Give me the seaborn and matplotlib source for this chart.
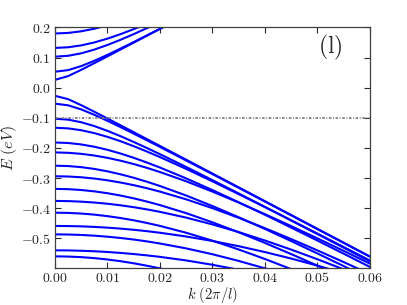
import numpy as np
import pandas as pd
import matplotlib
matplotlib.use("Agg")
import matplotlib.pyplot as plt
import seaborn as sns
from matplotlib.ticker import FuncFormatter, FixedLocator

# momentum grid (units of 2*pi/l)
k_grid = [0.0, 0.0025, 0.005, 0.0075, 0.01, 0.0125, 0.015, 0.0175, 0.02,
          0.025, 0.03, 0.035, 0.04, 0.045, 0.05, 0.055, 0.06]

# conduction subbands (eV)
cond_a = [0.026, 0.0384, 0.0593, 0.0815, 0.1041, 0.1268, 0.1496, 0.1725, 0.1954, 0.2413]
cond_b = [0.053, 0.0583, 0.0716, 0.0893, 0.1090, 0.1299, 0.1514, 0.1734, 0.1955, 0.2404]
cond_c = [0.103, 0.1059, 0.1141, 0.1265, 0.1418, 0.1591, 0.1779, 0.1976, 0.2179]
cond_d = [0.132, 0.1342, 0.1404, 0.1502, 0.1629, 0.1778, 0.1944, 0.2122]
cond_e = [0.180, 0.1818, 0.1872, 0.1958, 0.2070]

# valence subbands (eV)
val_1 = [-0.027, -0.0380, -0.0581, -0.0799, -0.1023, -0.1250, -0.1477, -0.1706, -0.1934,
         -0.2392, -0.2851, -0.3310, -0.3770, -0.4229, -0.4689, -0.5148, -0.5608]
val_2 = [-0.053, -0.0585, -0.0721, -0.0900, -0.1100, -0.1310, -0.1526, -0.1746, -0.1968,
         -0.2417, -0.2870, -0.3324, -0.3780, -0.4237, -0.4695, -0.5153, -0.5611]
val_3 = [-0.103, -0.1061, -0.1147, -0.1275, -0.1433, -0.1611, -0.1802, -0.2002, -0.2208,
         -0.2633, -0.3069, -0.3512, -0.3958, -0.4408, -0.4860, -0.5313, -0.5767]
val_4 = [-0.133, -0.1351, -0.1412, -0.1508, -0.1632, -0.1778, -0.1942, -0.2118, -0.2304,
         -0.2697, -0.3109, -0.3534, -0.3966, -0.4404, -0.4846, -0.5291, -0.5739]
val_5 = [-0.182, -0.1836, -0.1884, -0.1961, -0.2063, -0.2186, -0.2328, -0.2484, -0.2651,
         -0.3013, -0.3400, -0.3804, -0.4220, -0.4645, -0.5076, -0.5512, -0.5952]
val_6 = [-0.215, -0.2162, -0.2196, -0.2252, -0.2329, -0.2424, -0.2535, -0.2661, -0.2800,
         -0.3108, -0.3450, -0.3815, -0.4199, -0.4596, -0.5004, -0.5419, -0.5842]
val_7 = [-0.259, -0.2602, -0.2638, -0.2697, -0.2777, -0.2876, -0.2991, -0.3122, -0.3264,
         -0.3581, -0.3930, -0.4302, -0.4691, -0.5093, -0.5505, -0.5924, -0.6349]
val_8 = [-0.294, -0.2949, -0.2974, -0.3017, -0.3075, -0.3149, -0.3236, -0.3337, -0.3450,
         -0.3707, -0.4000, -0.4321, -0.4665, -0.5027, -0.5403, -0.5791, -0.6189]
val_9 = [-0.336, -0.3369, -0.3397, -0.3442, -0.3504, -0.3581, -0.3674, -0.3780, -0.3898,
         -0.4166, -0.4470, -0.4801, -0.5154, -0.5525, -0.5909, -0.6304]
val_10 = [-0.376, -0.3766, -0.3784, -0.3813, -0.3853, -0.3905, -0.3967, -0.4040, -0.4122,
          -0.4314, -0.4540, -0.4794, -0.5074, -0.5376, -0.5697, -0.6033, -0.6384]
val_11 = [-0.415, -0.4157, -0.4179, -0.4215, -0.4265, -0.4328, -0.4403, -0.4491, -0.4589,
          -0.4817, -0.5080, -0.5372, -0.5688, -0.6025]
val_12 = [-0.459, -0.4594, -0.4604, -0.4622, -0.4647, -0.4679, -0.4718, -0.4764, -0.4816,
          -0.4941, -0.5090, -0.5263, -0.5458, -0.5673, -0.5908, -0.6160]
val_13 = [-0.487, -0.4875, -0.4889, -0.4914, -0.4947, -0.4990, -0.5042, -0.5103, -0.5173,
          -0.5336, -0.5530, -0.5752, -0.5998, -0.6266]
val_14 = [-0.540, -0.5403, -0.5414, -0.5431, -0.5455, -0.5486, -0.5523, -0.5567, -0.5617,
          -0.5736, -0.5880, -0.6046]
val_15 = [-0.560, -0.5607, -0.5626, -0.5659, -0.5704, -0.5761, -0.5830, -0.5910, -0.6000,
          -0.6210]

fermi_level = -0.1
x_ticks = [0.00, 0.01, 0.02, 0.03, 0.04, 0.05, 0.06]
y_ticks = [-0.5, -0.4, -0.3, -0.2, -0.1, 0.0, 0.1, 0.2]
panel_label = "(l)"

bands = {
    "c_a": cond_a, "c_b": cond_b, "c_c": cond_c, "c_d": cond_d, "c_e": cond_e,
    "v_1": val_1, "v_2": val_2, "v_3": val_3, "v_4": val_4, "v_5": val_5,
    "v_6": val_6, "v_7": val_7, "v_8": val_8, "v_9": val_9, "v_10": val_10,
    "v_11": val_11, "v_12": val_12, "v_13": val_13, "v_14": val_14, "v_15": val_15,
}

rows = []
for name, vals in bands.items():
    for kk, ee in zip(k_grid[:len(vals)], vals):
        rows.append({"band": name, "k": kk, "E": ee})
df = pd.DataFrame(rows)

sns.set_style("ticks")
plt.rcParams["mathtext.fontset"] = "cm"
plt.rcParams["font.family"] = ["DejaVu Serif"]

fig = plt.figure(figsize=(4.07, 3.05), dpi=100)
ax = fig.add_axes([0.135, 0.12, 0.774, 0.79])

sns.lineplot(data=df, x="k", y="E", hue="band", palette=["#0000ff"] * len(bands),
             estimator=None, sort=False, legend=False, linewidth=1.5, ax=ax)

ax.axhline(fermi_level, color="0.5", lw=1.3, ls=(0, (1.4, 0.9, 0.5, 0.9)))

ax.set_xlim(0.0, 0.06)
ax.set_ylim(-0.6, 0.2)
ax.xaxis.set_major_locator(FixedLocator(x_ticks))
ax.yaxis.set_major_locator(FixedLocator(y_ticks))
ax.xaxis.set_major_formatter(FuncFormatter(lambda v, p: f"${v:.2f}$"))
ax.yaxis.set_major_formatter(FuncFormatter(lambda v, p: f"${v:.1f}$".replace("-0.0", "0.0")))
ax.tick_params(direction="in", top=True, right=True, length=4, width=0.8,
               labelsize=10, pad=3, colors="0.15")
ax.tick_params(axis="x", pad=2)
for s in ax.spines.values():
    s.set_linewidth(0.9)
    s.set_color("0.25")

ax.set_xlabel(r"$k\ (2\pi/l)$", fontsize=10.5)
ax.set_ylabel(r"$E\ (eV)$", fontsize=11.5)
ax.xaxis.set_label_coords(0.5, -0.07)
ax.yaxis.set_label_coords(-0.115, 0.5)
ax.text(0.0525, 0.135, r"$\mathrm{" + panel_label + "}$", fontsize=17,
        ha="center", va="center")

fig.savefig("out.png", dpi=100)
